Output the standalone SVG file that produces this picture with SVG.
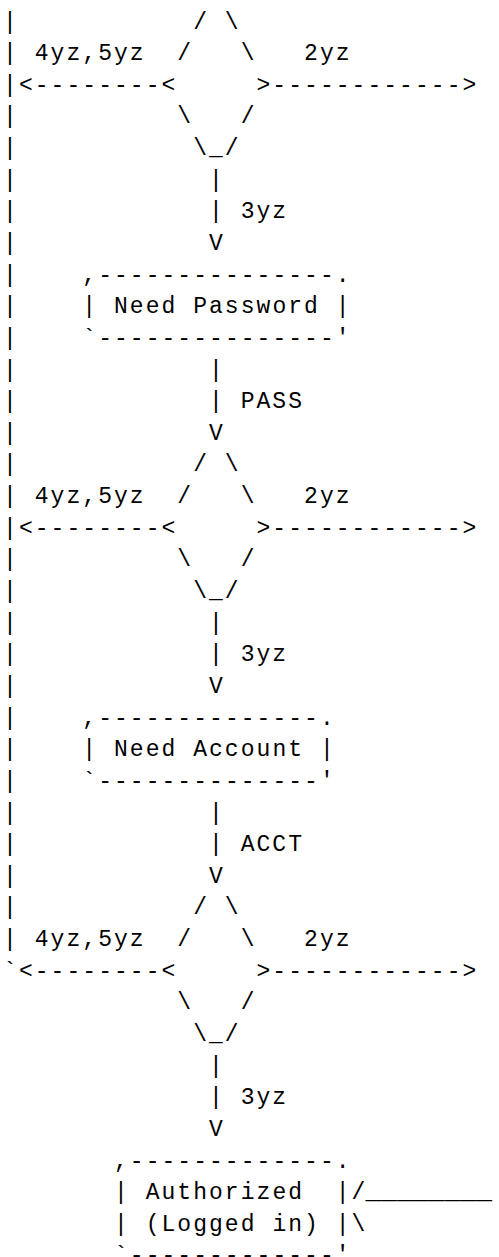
<svg xmlns="http://www.w3.org/2000/svg" width="499" height="1257" viewBox="0 0 499 1257">
<style>
text { font-family: "Liberation Mono", "Courier New", monospace; font-size: 23px; letter-spacing: 2.04px; fill: #000; white-space: pre; }
text.fill { letter-spacing: 0; }
</style>
<rect width="499" height="1257" fill="#fff"/>
<g transform="translate(1,0)">
<g id="connectors">
  <text x="2.1" y="28.5">|</text>
  <text x="2.1" y="60.14">|</text>
  <text x="2.1" y="91.78">|</text>
  <text x="2.1" y="123.42">|</text>
  <text x="2.1" y="155.06">|</text>
  <text x="2.1" y="186.7">|</text>
  <text x="2.1" y="218.34">|</text>
  <text x="2.1" y="249.98">|</text>
  <text x="2.1" y="281.62">|</text>
  <text x="2.1" y="313.26">|</text>
  <text x="2.1" y="344.9">|</text>
  <text x="2.1" y="376.54">|</text>
  <text x="2.1" y="408.18">|</text>
  <text x="2.1" y="439.82">|</text>
  <text x="2.1" y="471.46">|</text>
  <text x="2.1" y="503.1">|</text>
  <text x="2.1" y="534.74">|</text>
  <text x="2.1" y="566.38">|</text>
  <text x="2.1" y="598.02">|</text>
  <text x="2.1" y="629.66">|</text>
  <text x="2.1" y="661.3">|</text>
  <text x="2.1" y="692.94">|</text>
  <text x="2.1" y="724.58">|</text>
  <text x="2.1" y="756.22">|</text>
  <text x="2.1" y="787.86">|</text>
  <text x="2.1" y="819.5">|</text>
  <text x="2.1" y="851.14">|</text>
  <text x="2.1" y="882.78">|</text>
  <text x="2.1" y="914.42">|</text>
  <text x="2.1" y="946.06">|</text>
  <text x="2.1" y="977.7">`</text>
  <text x="33.78" y="60.14">4yz,5yz</text>
  <text x="303.06" y="60.14">2yz</text>
  <text x="17.94" y="91.78">&lt;--------&lt;</text>
  <text x="255.54" y="91.78">&gt;------------&gt;</text>
  <text x="208.02" y="186.7">|</text>
  <text x="208.02" y="218.34">|</text>
  <text x="239.7" y="218.34">3yz</text>
  <text x="208.02" y="249.98">V</text>
  <text x="208.02" y="376.54">|</text>
  <text x="208.02" y="408.18">|</text>
  <text x="239.7" y="408.18">PASS</text>
  <text x="208.02" y="439.82">V</text>
  <text x="33.78" y="503.1">4yz,5yz</text>
  <text x="303.06" y="503.1">2yz</text>
  <text x="17.94" y="534.74">&lt;--------&lt;</text>
  <text x="255.54" y="534.74">&gt;------------&gt;</text>
  <text x="208.02" y="629.66">|</text>
  <text x="208.02" y="661.3">|</text>
  <text x="239.7" y="661.3">3yz</text>
  <text x="208.02" y="692.94">V</text>
  <text x="208.02" y="819.5">|</text>
  <text x="208.02" y="851.14">|</text>
  <text x="239.7" y="851.14">ACCT</text>
  <text x="208.02" y="882.78">V</text>
  <text x="33.78" y="946.06">4yz,5yz</text>
  <text x="303.06" y="946.06">2yz</text>
  <text x="17.94" y="977.7">&lt;--------&lt;</text>
  <text x="255.54" y="977.7">&gt;------------&gt;</text>
  <text x="208.02" y="1072.62">|</text>
  <text x="208.02" y="1104.26">|</text>
  <text x="239.7" y="1104.26">3yz</text>
  <text x="208.02" y="1135.9">V</text>
  <text class="fill" x="364.5" y="1199.18" textLength="126.7" lengthAdjust="spacingAndGlyphs">________</text>
</g>
<g id="decision-user">
  <text x="192.18" y="28.5">/</text>
  <text x="223.86" y="28.5">\</text>
  <text x="176.34" y="60.14">/</text>
  <text x="239.7" y="60.14">\</text>
  <text x="176.34" y="123.42">\</text>
  <text x="239.7" y="123.42">/</text>
  <text x="192.18" y="155.06">\_/</text>
</g>
<g id="need-password">
  <text x="81.3" y="281.62">,---------------.</text>
  <text x="81.3" y="313.26">|</text>
  <text x="112.98" y="313.26">Need Password</text>
  <text x="334.74" y="313.26">|</text>
  <text x="81.3" y="344.9">`---------------'</text>
</g>
<g id="decision-pass">
  <text x="192.18" y="471.46">/</text>
  <text x="223.86" y="471.46">\</text>
  <text x="176.34" y="503.1">/</text>
  <text x="239.7" y="503.1">\</text>
  <text x="176.34" y="566.38">\</text>
  <text x="239.7" y="566.38">/</text>
  <text x="192.18" y="598.02">\_/</text>
</g>
<g id="need-account">
  <text x="81.3" y="724.58">,--------------.</text>
  <text x="81.3" y="756.22">|</text>
  <text x="112.98" y="756.22">Need Account</text>
  <text x="318.9" y="756.22">|</text>
  <text x="81.3" y="787.86">`--------------'</text>
</g>
<g id="decision-acct">
  <text x="192.18" y="914.42">/</text>
  <text x="223.86" y="914.42">\</text>
  <text x="176.34" y="946.06">/</text>
  <text x="239.7" y="946.06">\</text>
  <text x="176.34" y="1009.34">\</text>
  <text x="239.7" y="1009.34">/</text>
  <text x="192.18" y="1040.98">\_/</text>
</g>
<g id="authorized">
  <text x="112.98" y="1167.54">,-------------.</text>
  <text x="112.98" y="1199.18">|</text>
  <text x="144.66" y="1199.18">Authorized</text>
  <text x="334.74" y="1199.18">|/</text>
  <text x="112.98" y="1230.82">|</text>
  <text x="144.66" y="1230.82">(Logged in)</text>
  <text x="334.74" y="1230.82">|\</text>
  <text x="112.98" y="1262.46">`-------------'</text>
</g>
</g>
</svg>
